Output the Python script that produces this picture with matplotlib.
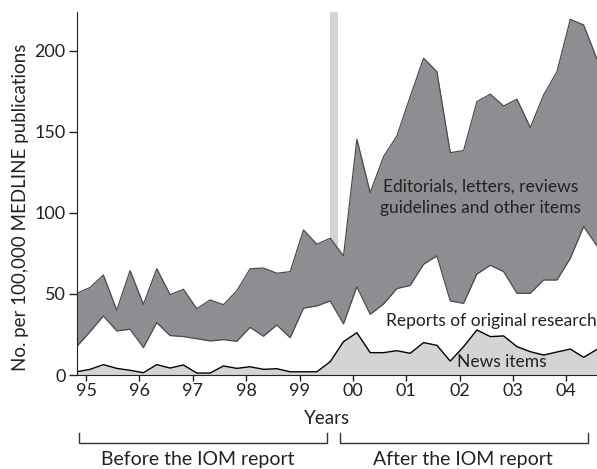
import numpy as np
import matplotlib
matplotlib.use('Agg')
import matplotlib.pyplot as plt

plt.rcParams['font.family'] = ['Lato', 'DejaVu Sans']

# quarterly values, 1995 Q1 .. 2004 Q4 (cumulative tops of each band)
news = [2, 3.5, 6.4, 4.1, 2.9, 1.4, 6.4, 4.3, 6.2, 1.2,
        1.2, 5.6, 4.1, 5.1, 3.5, 3.9, 2, 2, 2, 8.2,
        20.6, 26.1, 13.8, 13.8, 15, 13.4, 20, 18.3, 8.6, 17.5,
        27.8, 23.7, 24.1, 17.5, 14.4, 12.3, 14.2, 16, 10.9, 15.8]
reports_top = [17.5, 26.7, 36.4, 27.2, 28.2, 16.9, 32.3, 24.3, 23.7, 22.4,
               21, 21.8, 20.8, 29.4, 23.9, 30.9, 23, 41.2, 42.6, 45.7,
               31.5, 54.5, 37.4, 43.8, 53.3, 55.3, 68.3, 73.5, 45.7, 44.2,
               62.3, 67.7, 63.8, 50.4, 50.4, 58.6, 58.6, 72, 91.6, 79.6]
total = [50.4, 54, 61.7, 40, 64.4, 43.6, 65.6, 49.6, 52.9, 40.9,
         46.3, 43.4, 52, 65.6, 66, 62.8, 63.8, 89.5, 80.7, 84.4,
         73.5, 145.5, 112.6, 134.8, 147.5, 171.8, 195.5, 187.2, 137.2, 138.5,
         168.7, 173.3, 166, 170.2, 152.7, 172.8, 187.2, 219.5, 216, 194.9]
year_labels = ['95', '96', '97', '98', '99', '00', '01', '02', '03', '04']

t = np.arange(len(total))
dark = '#8d8e92'
light = '#d4d4d7'
ink = '#222222'

fig = plt.figure(figsize=(5.97, 4.69), dpi=100)
ax = fig.add_axes([0.1285, 0.2004, 1 - 0.1285, 0.774])

# IOM report marker
ax.axvspan(18.95, 19.6, color=light, lw=0, zorder=0)

ax.fill_between(t, reports_top, total, color=dark, lw=0, zorder=1)
ax.fill_between(t, news, reports_top, color='white', lw=0, zorder=1)
ax.fill_between(t, 0, news, color=light, lw=0, zorder=1)
ax.plot(t, total, color='#4a4a4a', lw=0.9, zorder=2)
ax.plot(t, reports_top, color='#4a4a4a', lw=0.9, zorder=2)
ax.plot(t, news, color='black', lw=1.0, zorder=2)

ax.set_xlim(0, 39)
ax.set_ylim(0, 224)
ax.set_yticks([0, 50, 100, 150, 200])
ax.set_xticks(0.7 + 4 * np.arange(len(year_labels)))
ax.set_xticklabels(year_labels)
ax.tick_params(axis='both', labelsize=13, colors=ink, width=1)
ax.tick_params(axis='y', length=6, pad=2)
ax.tick_params(axis='x', length=4, pad=2)
ax.spines['right'].set_visible(False)
ax.spines['top'].set_visible(False)
ax.spines['left'].set_color(ink)
ax.spines['bottom'].set_color(ink)

# labels placed in pixel coords (origin top-left)
H = 469
def ftxt(x, y, s, size=12.5, **kw):
    fig.text(x / 597, 1 - y / H, s, fontsize=size, color=ink, **kw)

ftxt(481, 187, 'Editorials, letters, reviews', ha='center', va='center')
ftxt(481, 208, 'guidelines and other items', ha='center', va='center')
ftxt(597, 321, 'Reports of original research', ha='right', va='center')
ftxt(502, 362, 'News items', ha='center', va='center')
ftxt(327, 418, 'Years', ha='center', va='center', size=13.5)
ftxt(21, 207, 'No. per 100,000 MEDLINE publications', ha='center', va='center', rotation=90, size=13.5)
ftxt(198, 459, 'Before the IOM report', ha='center', va='center', size=14)
ftxt(463, 459, 'After the IOM report', ha='center', va='center', size=14)

# brackets under the axis
for x0, x1 in [(79, 327), (340, 588)]:
    xs = np.array([x0, x0, x1, x1]) / 597
    ys = 1 - np.array([433, 443, 443, 433]) / H
    fig.add_artist(plt.Line2D(xs, ys, color='#333333', lw=1))

fig.savefig('out.png', dpi=100)
